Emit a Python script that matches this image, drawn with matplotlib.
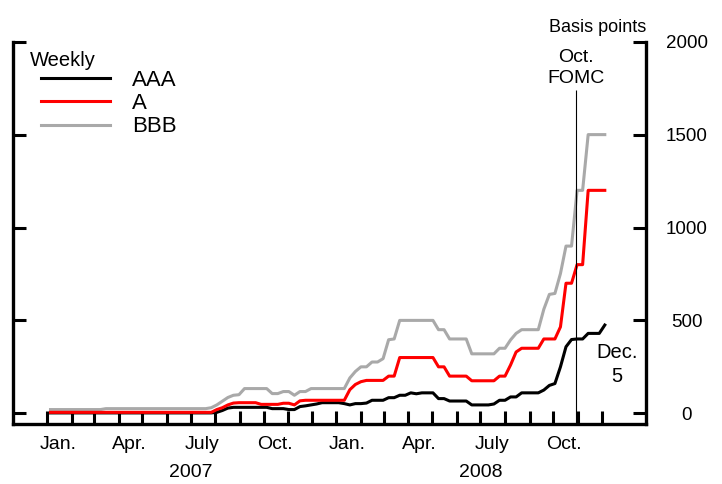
import matplotlib
matplotlib.use('Agg')
import matplotlib.pyplot as plt
import matplotlib.dates as mdates
from matplotlib.transforms import blended_transform_factory
import datetime as dt

plt.rcParams['font.family'] = ['Liberation Sans', 'DejaVu Sans']

# ---------------- data ----------------
first_week = dt.date(2007, 1, 5)
n_weeks = 101
weeks = [first_week + dt.timedelta(days=7 * i) for i in range(n_weeks)]

aaa = [2, 2, 2, 2, 2, 2, 2, 2, 2, 2,
       2, 2, 2, 2, 2, 2, 2, 2, 2, 2,
       2, 2, 2, 2, 2, 2, 2, 2, 2, 2,
       5, 15, 28, 32, 32, 32, 32, 32, 32, 32,
       25, 25, 25, 20, 20, 36, 40, 45, 50, 57,
       57, 57, 57, 52, 45, 52, 52, 55, 70, 70,
       70, 84, 84, 97, 97, 110, 105, 110, 110, 110,
       79, 79, 66, 66, 66, 66, 45, 45, 45, 45,
       50, 70, 70, 88, 88, 110, 110, 110, 110, 125,
       150, 160, 250, 358, 397, 400, 400, 430, 430, 430,
       475]

a_rated = [5, 5, 5, 5, 5, 5, 5, 5, 5, 5,
           5, 5, 5, 5, 5, 5, 5, 5, 5, 5,
           5, 5, 5, 5, 5, 5, 5, 5, 5, 5,
           20, 30, 45, 55, 57, 57, 57, 57, 48, 48,
           48, 48, 54, 54, 45, 67, 70, 70, 70, 70,
           70, 70, 70, 70, 127, 155, 170, 177, 177, 177,
           177, 200, 200, 300, 300, 300, 300, 300, 300, 300,
           250, 250, 200, 200, 200, 200, 175, 175, 175, 175,
           175, 200, 200, 260, 330, 350, 350, 350, 350, 400,
           400, 400, 465, 700, 700, 800, 800, 1200, 1200, 1200,
           1200]

bbb = [20, 20, 20, 20, 20, 20, 20, 20, 20, 20,
       25, 25, 25, 25, 25, 25, 25, 25, 25, 25,
       25, 25, 25, 25, 25, 25, 25, 25, 25, 30,
       45, 65, 85, 97, 100, 133, 133, 133, 133, 133,
       106, 106, 117, 117, 97, 117, 117, 133, 133, 133,
       133, 133, 133, 133, 190, 225, 250, 250, 276, 276,
       294, 396, 400, 500, 500, 500, 500, 500, 500, 500,
       450, 450, 400, 400, 400, 400, 320, 320, 320, 320,
       320, 350, 350, 395, 430, 450, 450, 450, 450, 560,
       640, 645, 752, 900, 900, 1200, 1200, 1500, 1500, 1500,
       1500]

series_labels = ['AAA', 'A', 'BBB']
month_labels = ['Jan.', 'Apr.', 'July', 'Oct.']
years = [2007, 2008]
y_ticks = [0, 500, 1000, 1500, 2000]
fomc_date = dt.date(2008, 10, 29)
last_date = dt.date(2008, 12, 5)

# ---------------- figure ----------------
fig = plt.figure(figsize=(7.22, 4.84), dpi=100)
ax = fig.add_axes([0.01842, 0.125, 0.8947 - 0.01842, 0.9138 - 0.125])

lw = 2.2
l_aaa, = ax.plot(weeks, aaa, color='black', lw=lw, zorder=3)
l_bbb, = ax.plot(weeks, bbb, color='#a9a9a9', lw=lw, zorder=3)
l_a, = ax.plot(weeks, a_rated, color='#ff0000', lw=lw, zorder=4)

ax.set_xlim(dt.date(2006, 11, 19), dt.date(2009, 1, 26))
ax.set_ylim(-55, 2000)

# spines
for s in ['left', 'right', 'bottom']:
    ax.spines[s].set_linewidth(2.4)
ax.spines['top'].set_visible(False)

# x ticks: month starts (no labels), mid-month labels
month_starts = [dt.date(y, m, 1) for y in years for m in range(1, 13)]
ax.set_xticks(month_starts)
ax.set_xticklabels([])
label_dates = [dt.date(y, m, 15) for y in years for m in (1, 4, 7, 10)]
ax.set_xticks(label_dates, minor=True)
ax.set_xticklabels(month_labels * len(years), minor=True)
ax.tick_params(axis='x', which='major', direction='in', length=9.5, width=2.2,
               top=False)
ax.tick_params(axis='x', which='minor', length=0, pad=9, labelsize=14)

# y ticks
ax.set_yticks(y_ticks)
ax.set_yticklabels([str(v) for v in y_ticks])
ax.tick_params(axis='y', direction='in', length=9.5, width=2.2, left=True,
               right=True, labelleft=False, labelright=True, pad=29.5,
               labelsize=13.5)
for t in ax.get_yticklabels():
    t.set_horizontalalignment('center')

# year labels
trans = blended_transform_factory(ax.transData, ax.transAxes)
for y in years:
    ax.text(dt.date(y, 7, 1), -0.141, str(y), transform=trans, ha='center',
            va='baseline', fontsize=14)

ax.text(1.0, 1.0254, 'Basis points', transform=ax.transAxes, ha='right',
        va='baseline', fontsize=13)

# FOMC line and annotations
ax.vlines(fomc_date, -55, 1740, color='black', lw=0.8, zorder=5)
ax.text(fomc_date, 1892, 'Oct.', ha='center', va='baseline', fontsize=14)
ax.text(fomc_date, 1776, 'FOMC', ha='center', va='baseline', fontsize=14)
ax.text(dt.date(2008, 12, 20), 298, 'Dec.', ha='center', va='baseline', fontsize=14.5)
ax.text(dt.date(2008, 12, 20), 169, '5', ha='center', va='baseline', fontsize=14.5)

# legend
ax.text(0.0264, 0.936, 'Weekly', transform=ax.transAxes, ha='left',
        va='baseline', fontsize=14.5)
ax.legend([l_aaa, l_a, l_bbb], series_labels, loc='upper left',
          bbox_to_anchor=(0.0438, 0.926), frameon=False, fontsize=16,
          handlelength=3.1, handletextpad=1.0, labelspacing=0.1,
          borderpad=0, borderaxespad=0)

fig.savefig('out.png', dpi=100)
